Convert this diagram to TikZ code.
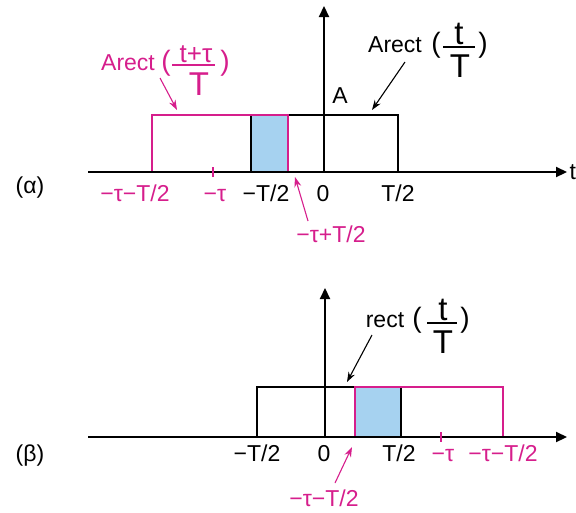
\documentclass[tikz,border=0pt]{standalone}
\usepackage{fontspec}
\setmainfont{Liberation Sans}
\usetikzlibrary{arrows.meta}
\definecolor{mag}{RGB}{214,30,140}
\definecolor{fillblue}{RGB}{166,210,240}
\tikzset{
 lbl/.style={inner sep=0pt, anchor=base, font=\fontsize{23}{23}\selectfont},
 frc/.style={inner sep=0pt, anchor=base, font=\fontsize{33}{33}\selectfont},
 frcs/.style={inner sep=0pt, anchor=base, font=\fontsize{26}{26}\selectfont},
 parn/.style={inner sep=0pt, anchor=base, font=\fontsize{28}{28}\selectfont},
 axisline/.style={line width=2.2pt, -{Triangle[length=11pt,width=10pt]}},
 blackrect/.style={line width=2pt, black},
 magrect/.style={line width=1.8pt, mag},
 pointer/.style={line width=1.1pt, -{Stealth[length=10pt,width=7pt]}},
 bar/.style={line width=1.6pt},
}
\begin{document}
\begin{tikzpicture}[x=1pt,y=-1pt]
\useasboundingbox (0,0) rectangle (576,512);

% ---------------- (alpha) ----------------
\coordinate (a0) at (88,172);
\coordinate (a1) at (567,172);
\coordinate (ao) at (324,172);
\coordinate (ay) at (324,6);
\fill[fillblue] (251,115) rectangle (288,172);
\draw[blackrect] (251,172) -- (251,115) -- (398,115) -- (398,172);
\draw[magrect] (152,172) -- (152,115) -- (288,115) -- (288,172);
\draw[axisline] (a0) -- (a1);
\draw[axisline] (ao) -- (ay);
\draw[mag, line width=1.5pt] (213,167) -- (213,177);
\node[lbl, anchor=base west] (tA) at (569.3,179) {t};

\node[lbl] (alab) at (30,193) {(α)};
\node[lbl, mag] (a1l) at (135,201) {−τ−T/2};
\node[lbl, mag] (a2l) at (215,201) {−τ};
\node[lbl] (a3l) at (266,201) {−T/2};
\node[lbl] (a4l) at (323,201) {0};
\node[lbl] (a5l) at (398,201) {T/2};
\node[lbl, mag] (a6l) at (331,242) {−τ+T/2};
\coordinate (a6s) at (308,221);
\coordinate (a6e) at (295,177);
\draw[pointer, mag] (a6s) -- (a6e);

\node[lbl] (Alab) at (340,103) {A};

% black label Arect(t/T)
\node[lbl] (bAr) at (395,52) {Arect};
\node[parn] (bpl) at (436,52) {(};
\node[frc] (bnum) at (459,44) {t};
\draw[bar] (443,47) -- (475,47);
\node[frc] (bden) at (460,77) {T};
\node[parn] (bpr) at (483,52) {)};
\coordinate (bps) at (405,62);
\coordinate (bpe) at (372,110);
\draw[pointer] (bps) -- (bpe);

% magenta label Arect((t+tau)/T)
\node[lbl, mag] (mAr) at (128,70) {Arect};
\node[parn, mag] (mpl) at (166,70) {(};
\node[frcs, mag] (mnum) at (196,62) {t+τ};
\draw[bar, mag] (172,65) -- (215,65);
\node[frc, mag] (mden) at (199,95) {T};
\node[parn, mag] (mpr) at (225,70) {)};
\coordinate (mps) at (160,78);
\coordinate (mpe) at (177,110);
\draw[pointer, mag] (mps) -- (mpe);

% ---------------- (beta) ----------------
\coordinate (b0) at (88,437);
\coordinate (b1) at (567,437);
\coordinate (bo) at (325,437);
\coordinate (by) at (325,288);
\fill[fillblue] (355,387) rectangle (401,437);
\draw[blackrect] (257,437) -- (257,387) -- (401,387) -- (401,437);
\draw[magrect] (355,437) -- (355,387) -- (503,387) -- (503,437);
\draw[axisline] (b0) -- (b1);
\draw[axisline] (bo) -- (by);
\draw[mag, line width=1.5pt] (441,432) -- (441,442);

\node[lbl] (blab) at (30,461) {(β)};
\node[lbl] (b1l) at (257,461) {−T/2};
\node[lbl] (b2l) at (324,461) {0};
\node[lbl] (b3l) at (399,461) {T/2};
\node[lbl, mag] (b4l) at (443,461) {−τ};
\node[lbl, mag] (b5l) at (503,461) {−τ−T/2};
\node[lbl, mag] (b6l) at (324,506) {−τ−T/2};
\coordinate (b6s) at (335,483);
\coordinate (b6e) at (352,447);
\draw[pointer, mag] (b6s) -- (b6e);

% rect(t/T)
\node[lbl] (rAr) at (385,327) {rect};
\node[parn] (rpl) at (417,327) {(};
\node[frc] (rnum) at (443,320) {t};
\draw[bar] (427,323) -- (457,323);
\node[frc] (rden) at (443,353) {T};
\node[parn] (rpr) at (465,327) {)};
\coordinate (rps) at (372,335);
\coordinate (rpe) at (347,382);
\draw[pointer] (rps) -- (rpe);
\end{tikzpicture}
\end{document}
